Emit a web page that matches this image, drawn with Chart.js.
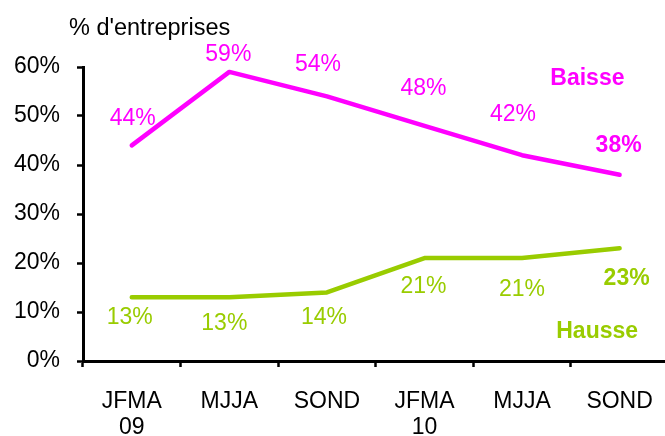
<!DOCTYPE html>
<html>
<head>
<meta charset="utf-8">
<script src="https://cdn.jsdelivr.net/npm/chart.js@4/dist/chart.umd.min.js"></script>
<style>
  html, body { margin: 0; padding: 0; background: #fff; overflow: hidden; }
  #wrap { width: 665px; height: 436px; overflow: hidden; }
  #wrap div { width: 674px; height: 436px; }
</style>
</head>
<body>
<div id="wrap"><div><canvas id="chart"></canvas></div></div>
<script>
// Periodes (trimestres glissants)
const categories = [["JFMA", "09"], "MJJA", "SOND", ["JFMA", "10"], "MJJA", "SOND"];

// % d'entreprises
const baisse = [44, 59, 54, 48, 42, 38];
const hausse = [13, 13, 14, 21, 21, 23];

const yTicks = [0, 10, 20, 30, 40, 50, 60];

const magenta = "#FF00FF";
const vert = "#99CC00";
const police = "'Liberation Sans', Arial, sans-serif";

// decalage des etiquettes par rapport au point (px)
const decalBaisse = [[1, -27], [-1, -17], [-9, -32], [-1, -37], [-9, -41], [-1, -29]];
const decalHausse = [[-2, 20], [-5, 26], [-3, 25], [-1, 29], [0, 32], [7, 30]];

const etiquettes = {
    id: "etiquettes",
    afterDatasetsDraw(chart) {
        const ctx = chart.ctx;
        const x = chart.scales.x, y = chart.scales.y;
        ctx.save();
        ctx.textAlign = "center";
        ctx.textBaseline = "middle";

        chart.data.datasets.forEach((ds, di) => {
            const meta = chart.getDatasetMeta(di);
            const decal = di === 0 ? decalBaisse : decalHausse;
            meta.data.forEach((pt, i) => {
                const last = i === ds.data.length - 1;
                ctx.font = (last ? "bold " : "") + "23px " + police;
                ctx.fillStyle = ds.borderColor;
                ctx.fillText(ds.data[i] + "%", pt.x + decal[i][0], pt.y + decal[i][1]);
            });
        });

        // noms des series
        ctx.font = "bold 23px " + police;
        ctx.fillStyle = magenta;
        ctx.fillText("Baisse", x.getPixelForValue(4.67), y.getPixelForValue(57.6));
        ctx.fillStyle = vert;
        ctx.fillText("Hausse", x.getPixelForValue(4.77), y.getPixelForValue(5.9));

        // titre de l'axe
        ctx.textAlign = "left";
        ctx.textBaseline = "alphabetic";
        ctx.fillStyle = "#000";
        ctx.font = "23.5px " + police;
        ctx.fillText("% d'entreprises", chart.chartArea.left - 14, 35);
        ctx.restore();
    }
};

new Chart(document.getElementById("chart"), {
    type: "line",
    data: {
        labels: categories,
        datasets: [
            { label: "Baisse", data: baisse, borderColor: magenta, borderWidth: 4.5 },
            { label: "Hausse", data: hausse, borderColor: vert, borderWidth: 4.5 }
        ]
    },
    options: {
        responsive: true,
        maintainAspectRatio: false,
        animation: false,
        layout: { padding: { top: 67, right: 2, left: 0, bottom: 0 } },
        elements: {
            point: { radius: 0 },
            line: { tension: 0, fill: false, borderCapStyle: "round", borderJoinStyle: "round" }
        },
        plugins: {
            legend: { display: false },
            tooltip: { enabled: false }
        },
        scales: {
            x: {
                offset: true,
                afterFit(scale) { scale.height = 75; },
                grid: {
                    offset: true,
                    drawOnChartArea: false,
                    drawTicks: true,
                    tickLength: 6,
                    tickWidth: 2.5,
                    tickColor: "#000"
                },
                border: { display: true, color: "#000", width: 3 },
                ticks: {
                    color: "#000",
                    font: { family: police, size: 23, lineHeight: 1.15 },
                    padding: 21,
                    maxRotation: 0,
                    autoSkip: false
                }
            },
            y: {
                min: 0,
                max: 60,
                afterFit(scale) { scale.width = 83; },
                afterBuildTicks(scale) { scale.ticks = yTicks.map(v => ({ value: v })); },
                grid: {
                    drawOnChartArea: false,
                    drawTicks: true,
                    tickLength: 6,
                    tickWidth: 2.5,
                    tickColor: "#000"
                },
                border: { display: true, color: "#000", width: 3 },
                ticks: {
                    color: "#000",
                    font: { family: police, size: 23 },
                    padding: 17,
                    callback: v => v + "%"
                }
            }
        }
    },
    plugins: [etiquettes]
});
</script>
</body>
</html>
